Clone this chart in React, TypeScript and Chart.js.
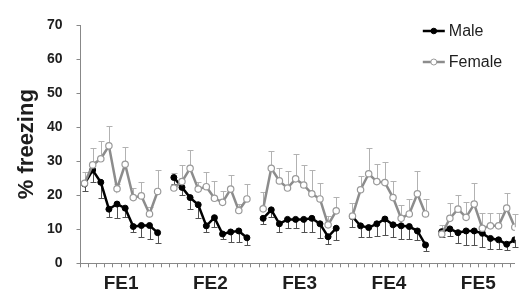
import React, { useEffect, useRef } from 'react';
import { Chart, registerables } from 'chart.js';

Chart.register(...registerables);

const sessions = ['FE1', 'FE2', 'FE3', 'FE4', 'FE5'];
const trialsPerSession = 10;
const slotsPerSession = 11; // 10 trials + one empty slot

const maleMean = [
  [23.3, 27.4, 23.8, 15.9, 17.4, 16.2, 10.8, 11.1, 11.1, 9.0],
  [25.2, 22.3, 19.3, 17.2, 11.0, 13.4, 8.6, 9.2, 9.5, 7.5],
  [13.2, 15.7, 11.6, 12.9, 12.9, 12.9, 13.2, 11.6, 7.8, 10.3],
  [13.7, 11.0, 10.5, 11.6, 13.0, 11.3, 11.0, 10.8, 9.5, 5.4],
  [9.3, 10.1, 9.0, 9.5, 9.5, 8.8, 7.3, 6.9, 5.6, 6.9],
];
const maleSem = [
  [2.0, 3.5, 4.5, 2.2, 4.1, 2.5, 1.5, 3.3, 4.1, 2.9],
  [2.0, 2.2, 3.4, 4.0, 1.7, 2.8, 1.6, 2.8, 3.1, 2.1],
  [1.7, 2.0, 2.3, 2.6, 2.6, 3.6, 3.9, 4.2, 2.1, 3.4],
  [3.1, 3.2, 2.9, 3.6, 4.7, 3.7, 4.0, 3.8, 2.8, 1.7],
  [1.7, 2.0, 3.1, 4.1, 4.1, 4.1, 3.1, 2.7, 1.7, 2.0],
];
const femaleMean = [
  [23.5, 28.9, 30.7, 34.5, 21.9, 29.1, 19.3, 19.8, 14.5, 21.1],
  [22.1, 24.0, 27.9, 21.8, 22.5, 19.1, 17.9, 21.8, 15.5, 18.9],
  [16.0, 27.9, 24.2, 22.1, 24.8, 23.0, 20.4, 18.9, 11.3, 15.4],
  [13.9, 21.6, 26.3, 24.0, 23.7, 19.3, 13.2, 14.5, 20.4, 14.5],
  [8.6, 13.2, 15.9, 13.5, 17.4, 10.3, 11.0, 11.0, 16.2, 10.6],
];
const femaleSem = [
  [3.2, 4.9, 5.1, 5.9, 1.5, 5.2, 2.7, 4.2, 2.0, 6.2],
  [4.4, 4.9, 5.4, 2.0, 4.3, 5.2, 3.2, 4.2, 2.0, 4.3],
  [4.8, 5.2, 3.7, 5.1, 7.4, 5.9, 7.1, 4.6, 2.5, 4.0],
  [3.7, 4.1, 7.5, 5.1, 6.2, 4.9, 3.9, 4.3, 6.8, 4.3],
  [2.7, 4.4, 4.2, 4.6, 6.1, 4.6, 3.9, 3.9, 4.4, 4.0],
];
const yTicks = [0, 10, 20, 30, 40, 50, 60, 70];

const FONT = '"Liberation Sans", Arial, sans-serif';
const TEXT = '#1e1e1e';
const AXIS = '#888888';

function buildSeries(means: number[][], sems: number[][]) {
  const data: { x: number; y: number | null }[] = [];
  const errs: number[] = [];
  means.forEach((arr, s) => {
    arr.forEach((v, t) => {
      data.push({ x: s * slotsPerSession + t, y: v });
      errs.push(sems[s][t]);
    });
    if (s < means.length - 1) {
      data.push({ x: s * slotsPerSession + trialsPerSession, y: null });
      errs.push(0);
    }
  });
  return { data, errs };
}

const errorBarPlugin = {
  id: 'errorBars',
  beforeDatasetsDraw(chart: any) {
    const { ctx } = chart;
    const yScale = chart.scales.y;
    chart.data.datasets.forEach((ds: any, di: number) => {
      const meta = chart.getDatasetMeta(di);
      ctx.save();
      ctx.strokeStyle = ds.errorColor;
      ctx.lineWidth = 1;
      meta.data.forEach((pt: any, i: number) => {
        const d = ds.data[i];
        if (!d || d.y == null) return;
        const yEnd = yScale.getPixelForValue(d.y + ds.errorDir * ds.errors[i]);
        const x = Math.round(pt.x) + 0.5;
        const ye = Math.round(yEnd) + 0.5;
        ctx.beginPath();
        ctx.moveTo(x, pt.y);
        ctx.lineTo(x, ye);
        ctx.moveTo(x - 3, ye);
        ctx.lineTo(x + 3, ye);
        ctx.stroke();
      });
      ctx.restore();
    });
  },
};

const legendPlugin = {
  id: 'customLegend',
  afterDraw(chart: any) {
    const { ctx, chartArea } = chart;
    const x0 = chartArea.right - 92;
    const rows = [
      { label: 'Male', dy: 6, line: '#000000', fill: '#000000', stroke: '#000000', r: 2.8 },
      { label: 'Female', dy: 37, line: '#8c8c8c', fill: '#ffffff', stroke: '#999999', r: 3 },
    ];
    ctx.save();
    rows.forEach((row) => {
      const y = chartArea.top + row.dy;
      ctx.strokeStyle = row.line;
      ctx.lineWidth = 2.5;
      ctx.beginPath();
      ctx.moveTo(x0, y);
      ctx.lineTo(x0 + 22, y);
      ctx.stroke();
      ctx.beginPath();
      ctx.arc(x0 + 11, y, row.r, 0, Math.PI * 2);
      ctx.fillStyle = row.fill;
      ctx.fill();
      ctx.lineWidth = 1;
      ctx.strokeStyle = row.stroke;
      ctx.stroke();
      ctx.fillStyle = TEXT;
      ctx.font = `16px ${FONT}`;
      ctx.textBaseline = 'middle';
      ctx.textAlign = 'left';
      ctx.fillText(row.label, x0 + 26, y + 1);
    });
    ctx.restore();
  },
};

export default function App() {
  const ref = useRef<HTMLCanvasElement | null>(null);

  useEffect(() => {
    if (!ref.current) return;
    const male = buildSeries(maleMean, maleSem);
    const female = buildSeries(femaleMean, femaleSem);
    const lastIndex = (sessions.length - 1) * slotsPerSession + trialsPerSession - 1;
    const boundaries: number[] = [];
    for (let i = -1; i < lastIndex; i++) boundaries.push(i + 0.5);
    const labelFor = (v: number) => {
      const s = sessions.findIndex(
        (_, k) => Math.abs(k * slotsPerSession + (trialsPerSession - 1) / 2 - v) < 0.01
      );
      return s >= 0 ? sessions[s] : '';
    };

    const chart = new Chart(ref.current, {
      type: 'line',
      data: {
        datasets: [
          {
            label: 'Female',
            data: female.data,
            errors: female.errs,
            errorDir: 1,
            errorColor: '#b2b2b2',
            order: 0,
            borderColor: '#8c8c8c',
            borderWidth: 2.5,
            pointRadius: 3.2,
            pointBackgroundColor: '#ffffff',
            pointBorderColor: '#9a9a9a',
            pointBorderWidth: 1.2,
            spanGaps: false,
            tension: 0,
          } as any,
          {
            label: 'Male',
            data: male.data,
            errors: male.errs,
            errorDir: -1,
            errorColor: '#505050',
            order: 1,
            borderColor: '#000000',
            borderWidth: 2.5,
            pointRadius: 3,
            pointBackgroundColor: '#000000',
            pointBorderColor: '#000000',
            pointBorderWidth: 1,
            spanGaps: false,
            tension: 0,
          } as any,
        ],
      },
      options: {
        animation: false,
        responsive: false,
        devicePixelRatio: 1,
        layout: { padding: { top: 25, right: 0, bottom: 0, left: 0 } },
        plugins: { legend: { display: false }, tooltip: { enabled: false } },
        scales: {
          x: {
            type: 'linear',
            min: -0.5,
            max: lastIndex,
            bounds: 'data',
            afterBuildTicks: (s: any) => {
              s.ticks = boundaries.map((v) => ({ value: v }));
            },
            afterFit: (s: any) => {
              s.height = 30.7;
            },
            ticks: {
              autoSkip: false,
              maxRotation: 0,
              minRotation: 0,
              padding: 5,
              color: TEXT,
              font: { family: FONT, size: 19, weight: 'bold' },
              callback: (v: any) => labelFor(Number(v)),
            },
            grid: { drawOnChartArea: false, drawTicks: true, tickLength: 4, color: AXIS, lineWidth: 1 },
            border: { display: true, color: AXIS, width: 1 },
          },
          y: {
            min: yTicks[0],
            max: yTicks[yTicks.length - 1],
            afterFit: (s: any) => {
              s.width = 80.5;
            },
            ticks: {
              stepSize: 10,
              padding: 14,
              color: TEXT,
              font: { family: FONT, size: 14, weight: 'bold' },
            },
            grid: { drawOnChartArea: false, drawTicks: true, tickLength: 4, color: AXIS, lineWidth: 1 },
            border: { display: true, color: AXIS, width: 1 },
            title: {
              display: true,
              text: '% freezing',
              color: TEXT,
              font: { family: FONT, size: 22, weight: 'bold' },
              padding: { top: 14, bottom: 0 },
            },
          },
        },
      } as any,
      plugins: [errorBarPlugin, legendPlugin],
    });
    return () => chart.destroy();
  }, []);

  return (
    <div style={{ position: 'fixed', left: 0, top: 0, width: 520, height: 294, background: '#ffffff' }}>
      <canvas ref={ref} width={520} height={294} />
    </div>
  );
}
